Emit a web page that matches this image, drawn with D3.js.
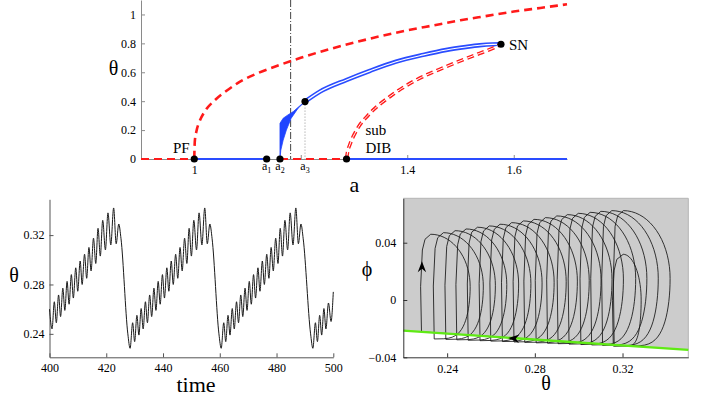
<!DOCTYPE html>
<html>
<head>
<meta charset="utf-8">
<script src="https://cdn.jsdelivr.net/npm/d3@7/dist/d3.min.js"></script>
<style>
body { margin: 0; background: #fff; }
svg { display: block; }
</style>
</head>
<body>
<svg id="fig" width="708" height="398"></svg>
<script>
// ---------- data: bifurcation diagram (top) ----------
var tickA = [1, 1.2, 1.4, 1.6];
var tickThetaTop = [0, 0.2, 0.4, 0.6, 0.8, 1];
// unstable pitchfork branch (red dashed)
var pfBranch = [[1.0,0],[1.001,0.12],[1.004,0.19],[1.01,0.26],[1.02,0.33],[1.039,0.408],[1.06,0.47],
  [1.086,0.535],[1.12,0.595],[1.16,0.65],[1.2,0.70],[1.25,0.756],[1.3,0.805],[1.35,0.85],[1.4,0.89],
  [1.45,0.925],[1.5,0.96],[1.55,0.99],[1.6,1.02],[1.65,1.045],[1.7,1.07]];
// filled wedge of oscillations between a2 and a3
var wedgeUpper = [[1.161,0],[1.161,0.247],[1.167,0.282],[1.176,0.305],[1.186,0.328],[1.198,0.367],[1.208,0.397]];
var wedgeLower = [[1.208,0.397],[1.195,0.351],[1.182,0.282],[1.173,0.2],[1.167,0.131],[1.1625,0.06],[1.161,0]];
// stable oscillation branch a3 -> SN (blue double line)
var stableOsc = [[1.208,0.397],[1.236,0.466],[1.286,0.547],[1.33,0.61],[1.379,0.673],[1.43,0.72],
  [1.473,0.754],[1.51,0.775],[1.536,0.787],[1.56,0.793],[1.576,0.794]];
// unstable oscillation branch DIB -> SN (red double dashed)
var unstableOsc = [[1.286,0],[1.288,0.05],[1.292,0.097],[1.305,0.2],[1.33,0.316],[1.367,0.431],
  [1.411,0.535],[1.473,0.639],[1.536,0.731],[1.56,0.765],[1.576,0.794]];
var stableZero = [[1.0,1.136],[1.286,1.7]];
var unstableZero = [[0.9,1.0],[1.161,1.286]];
var bifDots = [[1,0],[1.136,0],[1.161,0],[1.208,0.397],[1.286,0],[1.576,0.794]];
var dashDotA = 1.181;
var subLabels = [{a:1.136, s:"1"}, {a:1.161, s:"2"}, {a:1.208, s:"3"}];

// ---------- data: time series (bottom left) ----------
var tickTime = [400, 420, 440, 460, 480, 500];
var tickThetaTs = [0.24, 0.28, 0.32];
var thetaTrace = [
  [400.0,0.2600],[400.9,0.2440],[401.7,0.2660],[402.4,0.2490],[403.2,0.2715],[403.9,0.2540],[404.7,0.2770],
  [405.4,0.2590],[406.2,0.2825],[406.9,0.2640],[407.7,0.2880],[408.4,0.2690],[409.25,0.2935],[409.95,0.2745],
  [410.8,0.2990],[411.5,0.2800],[412.35,0.3045],[413.1,0.2850],[413.9,0.3100],[414.65,0.2910],[415.5,0.3175],
  [416.3,0.2970],[417.1,0.3255],[417.9,0.3030],[418.75,0.3320],[419.7,0.3080],[420.6,0.3380],[421.6,0.3120],
  [422.6,0.3420],[423.5,0.3130],[424.4,0.3290],[425.2,0.3170],[427.6,0.2400],[428.4,0.2283],
  [429.3,0.2490],[430.0,0.2337],[430.8,0.2550],[431.5,0.2390],[432.3,0.2605],[433.0,0.2440],[433.8,0.2660],
  [434.5,0.2490],[435.3,0.2715],[436.0,0.2540],[436.8,0.2770],[437.5,0.2590],[438.3,0.2825],[439.0,0.2640],
  [439.8,0.2880],[440.5,0.2690],[441.35,0.2935],[442.05,0.2745],[442.9,0.2990],[443.6,0.2800],[444.45,0.3045],
  [445.2,0.2850],[446.0,0.3100],[446.75,0.2910],[447.6,0.3175],[448.4,0.2970],[449.2,0.3255],[450.0,0.3030],
  [450.85,0.3320],[451.8,0.3080],[452.7,0.3380],[453.7,0.3120],[454.7,0.3420],[455.6,0.3130],[456.5,0.3290],
  [457.3,0.3170],[459.7,0.2400],[460.5,0.2283],
  [461.4,0.2490],[462.1,0.2337],[462.9,0.2550],[463.6,0.2390],[464.4,0.2605],[465.1,0.2440],[465.9,0.2660],
  [466.6,0.2490],[467.4,0.2715],[468.1,0.2540],[468.9,0.2770],[469.6,0.2590],[470.4,0.2825],[471.1,0.2640],
  [471.9,0.2880],[472.6,0.2690],[473.45,0.2935],[474.15,0.2745],[475.0,0.2990],[475.7,0.2800],[476.55,0.3045],
  [477.3,0.2850],[478.1,0.3100],[478.85,0.2910],[479.7,0.3175],[480.5,0.2970],[481.3,0.3255],[482.1,0.3030],
  [482.95,0.3320],[483.9,0.3080],[484.8,0.3380],[485.8,0.3120],[486.8,0.3420],[487.7,0.3130],[488.6,0.3290],
  [489.4,0.3170],[492.0,0.2400],[492.8,0.2283],
  [493.7,0.2490],[494.4,0.2337],[495.2,0.2550],[495.9,0.2390],[496.7,0.2605],[497.4,0.2440],[498.3,0.2650],
  [499.2,0.2500],[500.0,0.2740]
];

// ---------- data: phase plane (bottom right) ----------
var tickThetaPh = [0.24, 0.28, 0.32];
var tickPhi = [-0.04, 0, 0.04];
var phaseStart = [0.2283, -0.0222];
var loopLeft   = [0.2283,0.2341,0.2394,0.2444,0.2496,0.2550,0.2599,0.2652,0.2705,0.2754,0.2806,0.2858,0.2906,0.2956,0.3010,0.3059,0.3109,0.3162,0.3158];
var loopCorner = [0.2325,0.2383,0.2436,0.2486,0.2538,0.2592,0.2641,0.2694,0.2747,0.2796,0.2848,0.2900,0.2948,0.2998,0.3052,0.3101,0.3151,0.3204,0.3203];
var loopRight  = [0.2505,0.2565,0.2620,0.2672,0.2726,0.2782,0.2833,0.2888,0.2943,0.2994,0.3048,0.3102,0.3152,0.3204,0.3260,0.3311,0.3363,0.3417,0.3285];
var loopTop    = [0.0459,0.0470,0.0484,0.0496,0.0508,0.0517,0.0529,0.0540,0.0552,0.0563,0.0575,0.0587,0.0596,0.0605,0.0612,0.0619,0.0624,0.0624,0.0319];
var loopBottom = [-0.0272,-0.0275,-0.0278,-0.0281,-0.0284,-0.0287,-0.0290,-0.0293,-0.0296,-0.0299,-0.0302,-0.0305,-0.0308,-0.0311,-0.0314,-0.0317,-0.0320,-0.0322,-0.0322];
var switchLine = [[0.22,-0.0214],[0.35,-0.0348]];
var arrowMarks = [[0.2285, 0.027, -90], [0.2679, -0.0265, -176]];

var serif = '"Liberation Serif","Times New Roman",serif';
var svg = d3.select("#fig");

function styleAxis(g, col) {
  g.attr("font-family", serif).attr("font-size", 12);
  g.select(".domain").attr("stroke", col);
  g.selectAll(".tick line").attr("stroke", col);
  g.selectAll(".tick text").attr("fill", "#000");
}

// ================= top panel =================
var xA = d3.scaleLinear().domain([0.9, 1.7]).range([141, 567]);
var yA = d3.scaleLinear().domain([0, 1.1]).range([159, 0]);
var gTop = svg.append("g");

gTop.append("g").attr("transform", "translate(0,159)")
  .call(d3.axisBottom(xA).tickValues(tickA).tickSize(-4).tickSizeOuter(0).tickPadding(6)
    .tickFormat(function (d) { return d === 1.2 ? "" : d3.format("")(d); }))
  .call(styleAxis, "#8a8a8a");
gTop.append("g").attr("transform", "translate(141,0)")
  .call(d3.axisLeft(yA).tickValues(tickThetaTop).tickSize(-4).tickSizeOuter(0).tickPadding(5)
    .tickFormat(d3.format("")))
  .call(styleAxis, "#8a8a8a");

var lineA = d3.line().x(function (d) { return xA(d[0]); }).y(function (d) { return yA(d[1]); });
var smoothA = d3.line().x(function (d) { return xA(d[0]); }).y(function (d) { return yA(d[1]); })
  .curve(d3.curveMonotoneX);

// theta = 0 branches
gTop.selectAll("line.uz").data(unstableZero).enter().append("line")
  .attr("x1", function (d) { return xA(d[0]); }).attr("x2", function (d) { return xA(d[1]); })
  .attr("y1", yA(0)).attr("y2", yA(0))
  .attr("stroke", "#ff1a1a").attr("stroke-width", 2.2).attr("stroke-dasharray", "8,5");
gTop.selectAll("line.sz").data(stableZero).enter().append("line")
  .attr("x1", function (d) { return xA(d[0]); }).attr("x2", function (d) { return xA(d[1]); })
  .attr("y1", yA(0)).attr("y2", yA(0))
  .attr("stroke", "#2a4cff").attr("stroke-width", 2);

// vertical guides
gTop.append("line").attr("x1", xA(dashDotA)).attr("x2", xA(dashDotA)).attr("y1", 0).attr("y2", yA(0))
  .attr("stroke", "#444").attr("stroke-width", 1).attr("stroke-dasharray", "7,2,1,2");
gTop.append("line").attr("x1", xA(bifDots[3][0])).attr("x2", xA(bifDots[3][0]))
  .attr("y1", yA(bifDots[3][1])).attr("y2", yA(0))
  .attr("stroke", "#777").attr("stroke-width", 0.8).attr("stroke-dasharray", "1,2");

// wedge + stable oscillation band
gTop.append("path").attr("d", lineA(wedgeUpper.concat(wedgeLower)) + "Z")
  .attr("fill", "#1f44ff").attr("stroke", "#1f44ff").attr("stroke-width", 0.8);
gTop.append("path").attr("d", smoothA(stableOsc)).attr("fill", "none")
  .attr("stroke", "#2a4cff").attr("stroke-width", 4.4);
gTop.append("path").attr("d", smoothA(stableOsc)).attr("fill", "none")
  .attr("stroke", "#fff").attr("stroke-width", 1.2);

// unstable branches
gTop.append("path").attr("d", smoothA(pfBranch)).attr("fill", "none")
  .attr("stroke", "#ff1a1a").attr("stroke-width", 2.6).attr("stroke-dasharray", "8,5");
gTop.append("path").attr("d", smoothA(unstableOsc)).attr("fill", "none")
  .attr("stroke", "#ff1a1a").attr("stroke-width", 3.6).attr("stroke-dasharray", "7,4");
gTop.append("path").attr("d", smoothA(unstableOsc)).attr("fill", "none")
  .attr("stroke", "#fff").attr("stroke-width", 1);

gTop.selectAll("circle.bd").data(bifDots).enter().append("circle")
  .attr("cx", function (d) { return xA(d[0]); }).attr("cy", function (d) { return yA(d[1]); })
  .attr("r", 3.6).attr("fill", "#000");

var subs = gTop.selectAll("text.sub").data(subLabels).enter().append("text")
  .attr("x", function (d) { return xA(d.a); }).attr("y", 170)
  .attr("text-anchor", "middle").attr("font-family", serif).attr("font-size", 12);
subs.append("tspan").text("a");
subs.append("tspan").attr("dy", 3).attr("font-size", 8).text(function (d) { return d.s; });

function label(g, x, y, txt, size, anchor) {
  return g.append("text").attr("x", x).attr("y", y).attr("font-family", serif)
    .attr("font-size", size).attr("text-anchor", anchor || "start").text(txt);
}
label(gTop, 173, 153, "PF", 15);
label(gTop, 509, 50, "SN", 15);
label(gTop, 365.5, 135, "sub", 15);
label(gTop, 365.5, 153, "DIB", 15);
label(gTop, 113.5, 75, "θ", 20, "middle");
label(gTop, 354.5, 191.5, "a", 22, "middle");

// ================= bottom left: time series =================
var xT = d3.scaleLinear().domain([400, 500]).range([49.5, 333.3]);
var yT = d3.scaleLinear().domain([0.221, 0.349]).range([357.3, 199.3]);
var gTs = svg.append("g");
gTs.append("g").attr("transform", "translate(0,357.3)")
  .call(d3.axisBottom(xT).tickValues(tickTime).tickSize(-4).tickSizeOuter(0).tickPadding(6)
    .tickFormat(d3.format("d")))
  .call(styleAxis, "#555");
gTs.append("g").attr("transform", "translate(49.5,0)")
  .call(d3.axisLeft(yT).tickValues(tickThetaTs).tickSize(-4).tickSizeOuter(0).tickPadding(5)
    .tickFormat(d3.format(".2f")))
  .call(styleAxis, "#555");
gTs.append("path").datum(thetaTrace)
  .attr("d", d3.line().x(function (d) { return xT(d[0]); }).y(function (d) { return yT(d[1]); })
    .curve(d3.curveMonotoneX))
  .attr("fill", "none").attr("stroke", "#1a1a1a").attr("stroke-width", 1);
label(gTs, 196, 392, "time", 22, "middle");
label(gTs, 14, 282, "θ", 20, "middle");

// ================= bottom right: phase plane =================
var xP = d3.scaleLinear().domain([0.22, 0.35]).range([403.3, 688.3]);
var yP = d3.scaleLinear().domain([-0.04, 0.071]).range([357.3, 198.3]);
var gPh = svg.append("g");
var lineP = d3.line().x(function (d) { return xP(d[0]); }).y(function (d) { return yP(d[1]); });

gPh.append("path")
  .attr("d", lineP([[0.22, 0.071], [0.35, 0.071], switchLine[1], switchLine[0]]) + "Z")
  .attr("fill", "#cccccc");
gPh.append("path").attr("d", lineP([[0.22, 0.071], [0.35, 0.071], [0.35, -0.04]]))
  .attr("fill", "none").attr("stroke", "#b5b5b5").attr("stroke-width", 1);

// trajectory: one D-shaped loop per oscillation, then the slide back along the switching line
var traj = [phaseStart];
loopLeft.forEach(function (L, i) {
  var C = loopCorner[i], R = loopRight[i], T = loopTop[i], B = loopBottom[i];
  if (i > 0) traj.push([L, loopBottom[i - 1]]);
  traj.push([L - 0.0004, B + 0.5 * (T - B)]);
  traj.push([L + 0.0004, T - 0.011]);
  traj.push([L + 0.0016, T - 0.0035]);
  var cm = (T + B) / 2, h = (T - B) / 2, w = R - C;
  for (var s = 90; s >= -85; s -= 5) {
    var r = s * Math.PI / 180;
    var f = s >= 0 ? Math.cos(r) : Math.pow(Math.cos(r), 0.45);
    traj.push([C + w * f, cm + h * Math.sin(r)]);
  }
});
traj.push(phaseStart);
gPh.append("path").attr("d", lineP(traj)).attr("fill", "none")
  .attr("stroke", "#151515").attr("stroke-width", 0.85).attr("stroke-linejoin", "round");

gPh.append("path").attr("d", lineP(switchLine)).attr("stroke", "#5fea14").attr("stroke-width", 2.4);

gPh.selectAll("path.arrow").data(arrowMarks).enter().append("path")
  .attr("d", "M0,0L-11,-4.2L-7.5,0L-11,4.2Z")
  .attr("transform", function (d) { return "translate(" + xP(d[0]) + "," + yP(d[1]) + ")rotate(" + d[2] + ")"; })
  .attr("fill", "#000");

gPh.append("g").attr("transform", "translate(0,357.3)")
  .call(d3.axisBottom(xP).tickValues(tickThetaPh).tickSize(-4).tickSizeOuter(0).tickPadding(7)
    .tickFormat(d3.format(".2f")))
  .call(styleAxis, "#333");
gPh.append("g").attr("transform", "translate(403.3,0)")
  .call(d3.axisLeft(yP).tickValues(tickPhi).tickSize(-4).tickSizeOuter(0).tickPadding(7)
    .tickFormat(function (d) { return d === 0 ? "0" : d3.format(".2f")(d); }))
  .call(styleAxis, "#333");
label(gPh, 546, 390, "θ", 20, "middle");
label(gPh, 367, 276, "ϕ", 20, "middle");
</script>
</body>
</html>
